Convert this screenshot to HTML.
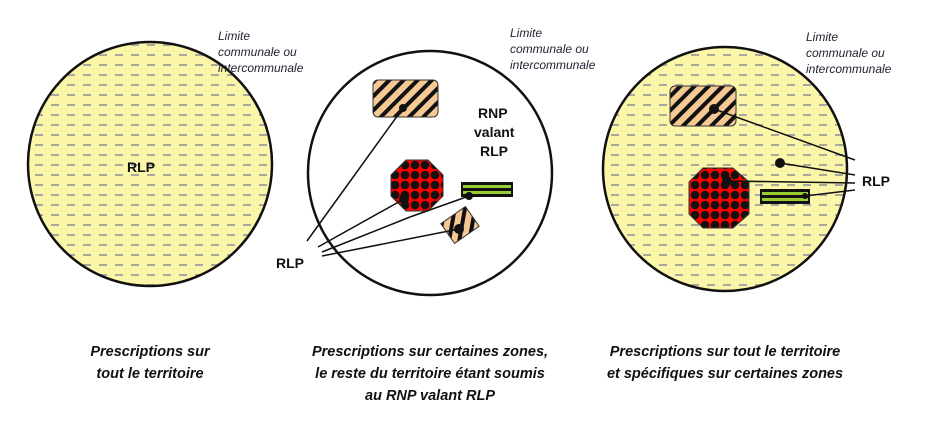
<!DOCTYPE html>
<html><head><meta charset="utf-8"><style>
body{margin:0;background:#fff;width:937px;height:426px;overflow:hidden}
svg{display:block}
.cap{font-family:"Liberation Sans",sans-serif;font-style:italic;font-weight:bold;font-size:14.5px;fill:#111}
.lim{font-family:"Liberation Sans",sans-serif;font-style:italic;font-size:12px;fill:#223}
.b{font-family:"Liberation Sans",sans-serif;font-weight:bold;font-size:14px;fill:#111}
</style></head><body>
<svg width="937" height="426" viewBox="0 0 937 426">
<defs>
<pattern id="dash" width="16" height="10" patternUnits="userSpaceOnUse">
<rect width="16" height="10" fill="#fbf6a8"/><rect x="3" y="4" width="8" height="2" fill="#a8a8a0"/>
</pattern>
<pattern id="hatch" width="10" height="10" patternUnits="userSpaceOnUse" patternTransform="rotate(45)">
<rect width="10" height="10" fill="#f6c894"/><rect width="4" height="10" fill="#111"/>
</pattern>
<pattern id="chk" width="10" height="10" patternUnits="userSpaceOnUse">
<rect width="10" height="10" fill="#f00"/><circle cx="5" cy="5" r="4.3" fill="#111"/>
</pattern>
</defs>
<!-- left -->
<circle cx="150" cy="164" r="122" fill="url(#dash)" stroke="#111" stroke-width="2.5"/>
<text class="b" x="127" y="172">RLP</text>
<text class="lim" x="218" y="40">Limite</text><text class="lim" x="218" y="56">communale ou</text><text class="lim" x="218" y="72">intercommunale</text>
<!-- middle -->
<circle cx="430" cy="173" r="122" fill="#fff" stroke="#111" stroke-width="2.5"/>
<text class="lim" x="510" y="37">Limite</text><text class="lim" x="510" y="53">communale ou</text><text class="lim" x="510" y="69">intercommunale</text>
<rect x="373" y="80" width="65" height="37" rx="5" fill="url(#hatch)" stroke="#333"/>
<text class="b" x="478" y="118">RNP</text><text class="b" x="474" y="137">valant</text><text class="b" x="480" y="156">RLP</text>
<polygon points="406,160 428,160 443,175 443,196 428,211 406,211 391,196 391,175" fill="url(#chk)" stroke="#333"/>
<rect x="461" y="182" width="52" height="15" fill="#111"/><rect x="463" y="185" width="48" height="3" fill="#9c3"/><rect x="463" y="191" width="48" height="3" fill="#9c3"/>
<g transform="translate(460,225) rotate(-35)"><rect x="-15" y="-12" width="30" height="24" fill="url(#hatch)" stroke="#333"/></g>
<circle cx="403" cy="108" r="4" fill="#111"/><circle cx="404" cy="199" r="5" fill="#111"/><circle cx="469" cy="196" r="4" fill="#111"/><circle cx="459" cy="229" r="5" fill="#111"/>
<g stroke="#111" stroke-width="1.5">
<line x1="307" y1="241" x2="403" y2="108"/><line x1="318" y1="247" x2="404" y2="199"/><line x1="322" y1="252" x2="410" y2="217"/><line x1="322" y1="256" x2="459" y2="229"/><line x1="410" y1="217" x2="469" y2="196"/>
</g>
<text class="b" x="276" y="268">RLP</text>
<!-- right -->
<circle cx="725" cy="169" r="122" fill="url(#dash)" stroke="#111" stroke-width="2.5"/>
<text class="lim" x="806" y="41">Limite</text><text class="lim" x="806" y="57">communale ou</text><text class="lim" x="806" y="73">intercommunale</text>
<rect x="670" y="86" width="66" height="40" rx="5" fill="url(#hatch)" stroke="#333"/>
<polygon points="703,168 733,168 749,182 749,214 733,228 703,228 689,214 689,182" fill="url(#chk)" stroke="#333"/>
<rect x="760" y="189" width="50" height="15" fill="#111"/><rect x="762" y="192" width="46" height="3" fill="#9c3"/><rect x="762" y="198" width="46" height="3" fill="#9c3"/>
<circle cx="714" cy="109" r="5" fill="#111"/><circle cx="780" cy="163" r="5" fill="#111"/><circle cx="727" cy="181" r="5" fill="#111"/><circle cx="805" cy="196" r="3" fill="#111"/>
<g stroke="#111" stroke-width="1.5">
<line x1="714" y1="109" x2="855" y2="160"/><line x1="780" y1="163" x2="855" y2="175"/><line x1="727" y1="181" x2="855" y2="183"/><line x1="805" y1="196" x2="855" y2="190"/>
</g>
<text class="b" x="862" y="186">RLP</text>
<!-- captions -->
<text class="cap" x="150" y="356" text-anchor="middle">Prescriptions sur</text>
<text class="cap" x="150" y="378" text-anchor="middle">tout le territoire</text>
<text class="cap" x="430" y="356" text-anchor="middle">Prescriptions sur certaines zones,</text>
<text class="cap" x="430" y="378" text-anchor="middle">le reste du territoire étant soumis</text>
<text class="cap" x="430" y="400" text-anchor="middle">au RNP valant RLP</text>
<text class="cap" x="725" y="356" text-anchor="middle">Prescriptions sur tout le territoire</text>
<text class="cap" x="725" y="378" text-anchor="middle">et spécifiques sur certaines zones</text>
</svg>
</body></html>
